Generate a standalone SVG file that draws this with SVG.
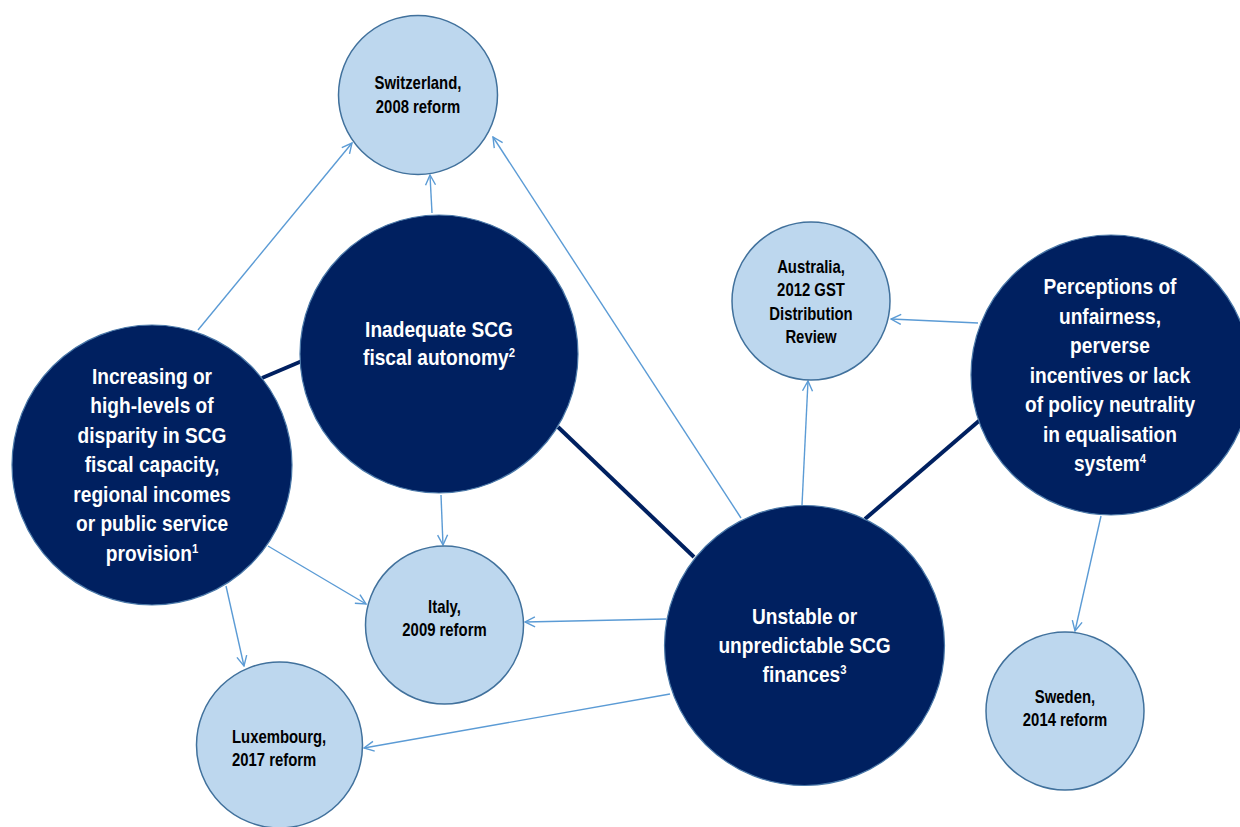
<svg xmlns="http://www.w3.org/2000/svg" width="1240" height="827" viewBox="0 0 1240 827">
<style>
.big{fill:#002060;stroke:#4a78a8;stroke-width:1.2}
.small{fill:#bdd7ee;stroke:#41719c;stroke-width:1.5}
.bt{font-family:"Liberation Sans",Arial,sans-serif;font-weight:bold;font-size:22px;fill:#ffffff;text-anchor:middle}
.st{font-family:"Liberation Sans",Arial,sans-serif;font-weight:bold;font-size:17.5px;fill:#000000;text-anchor:middle}
.arr{stroke:#5b9bd5;stroke-width:1.4;fill:none;marker-end:url(#ah)}
.link{stroke:#002060;stroke-width:4;fill:none}
.sup{font-size:13px}
</style>
<defs>
<marker id="ah" viewBox="0 0 12 12" refX="11" refY="6" markerWidth="12" markerHeight="12" markerUnits="userSpaceOnUse" orient="auto">
<path d="M1,1 L11,6 L1,11" fill="none" stroke="#5b9bd5" stroke-width="1.4"/>
</marker>
</defs>
<rect width="1240" height="827" fill="#ffffff"/>
<g id="connectors">
<line class="link" x1="262" y1="378" x2="302" y2="361"/>
<line class="link" x1="558" y1="427" x2="694" y2="557"/>
<line class="link" x1="865" y1="519" x2="980" y2="420"/>
<line class="arr" x1="198" y1="330" x2="352" y2="143"/>
<line class="arr" x1="432" y1="213" x2="430" y2="175"/>
<line class="arr" x1="741" y1="518" x2="493" y2="137"/>
<line class="arr" x1="802" y1="505" x2="808" y2="381"/>
<line class="arr" x1="978" y1="323" x2="891" y2="319"/>
<line class="arr" x1="1101" y1="516" x2="1075" y2="631"/>
<line class="arr" x1="441" y1="495" x2="443" y2="545"/>
<line class="arr" x1="268" y1="546" x2="366" y2="604"/>
<line class="arr" x1="226" y1="586" x2="244" y2="666"/>
<line class="arr" x1="666" y1="619" x2="525" y2="622"/>
<line class="arr" x1="670" y1="694" x2="364" y2="748"/>
</g>
<g id="switzerland">
<circle class="small" cx="418" cy="95" r="79.5"/>
<g transform="translate(418 0) scale(0.85 1)">
<text class="st" x="0" y="89">Switzerland,</text>
<text class="st" x="0" y="113">2008 reform</text>
</g>
</g>
<g id="australia">
<circle class="small" cx="811" cy="301" r="79"/>
<g transform="translate(811 0) scale(0.85 1)">
<text class="st" x="0" y="273">Australia,</text>
<text class="st" x="0" y="296.5">2012 GST</text>
<text class="st" x="0" y="320">Distribution</text>
<text class="st" x="0" y="343.5">Review</text>
</g>
</g>
<g id="italy">
<circle class="small" cx="444.5" cy="625" r="79"/>
<g transform="translate(444.5 0) scale(0.85 1)">
<text class="st" x="0" y="613">Italy,</text>
<text class="st" x="0" y="636.5">2009 reform</text>
</g>
</g>
<g id="luxembourg">
<circle class="small" cx="279.5" cy="745" r="83"/>
<g transform="translate(232 0) scale(0.85 1)">
<text class="st" x="0" y="743" style="text-anchor:start">Luxembourg,</text>
<text class="st" x="0" y="766" style="text-anchor:start">2017 reform</text>
</g>
</g>
<g id="sweden">
<circle class="small" cx="1065" cy="711" r="79"/>
<g transform="translate(1065 0) scale(0.85 1)">
<text class="st" x="0" y="703">Sweden,</text>
<text class="st" x="0" y="726.5">2014 reform</text>
</g>
</g>
<g id="increasing">
<circle class="big" cx="152" cy="465" r="140"/>
<g transform="translate(152 0) scale(0.87 1)">
<text class="bt" x="0" y="384">Increasing or</text>
<text class="bt" x="0" y="413.5">high-levels of</text>
<text class="bt" x="0" y="443">disparity in SCG</text>
<text class="bt" x="0" y="472.5">fiscal capacity,</text>
<text class="bt" x="0" y="502">regional incomes</text>
<text class="bt" x="0" y="531.5">or public service</text>
<text class="bt" x="0" y="561">provision<tspan class="sup" dy="-8">1</tspan></text>
</g>
</g>
<g id="inadequate">
<circle class="big" cx="439" cy="354" r="139"/>
<g transform="translate(439 0) scale(0.87 1)">
<text class="bt" x="0" y="337">Inadequate SCG</text>
<text class="bt" x="0" y="365">fiscal autonomy<tspan class="sup" dy="-8">2</tspan></text>
</g>
</g>
<g id="unstable">
<circle class="big" cx="804.5" cy="645.5" r="140"/>
<g transform="translate(804.5 0) scale(0.87 1)">
<text class="bt" x="0" y="624">Unstable or</text>
<text class="bt" x="0" y="653">unpredictable SCG</text>
<text class="bt" x="0" y="682">finances<tspan class="sup" dy="-8">3</tspan></text>
</g>
</g>
<g id="perceptions">
<circle class="big" cx="1111" cy="375" r="140"/>
<g transform="translate(1110 0) scale(0.87 1)">
<text class="bt" x="0" y="294">Perceptions of</text>
<text class="bt" x="0" y="324">unfairness,</text>
<text class="bt" x="0" y="353">perverse</text>
<text class="bt" x="0" y="383">incentives or lack</text>
<text class="bt" x="0" y="412">of policy neutrality</text>
<text class="bt" x="0" y="442">in equalisation</text>
<text class="bt" x="0" y="471">system<tspan class="sup" dy="-8">4</tspan></text>
</g>
</g>
</svg>
